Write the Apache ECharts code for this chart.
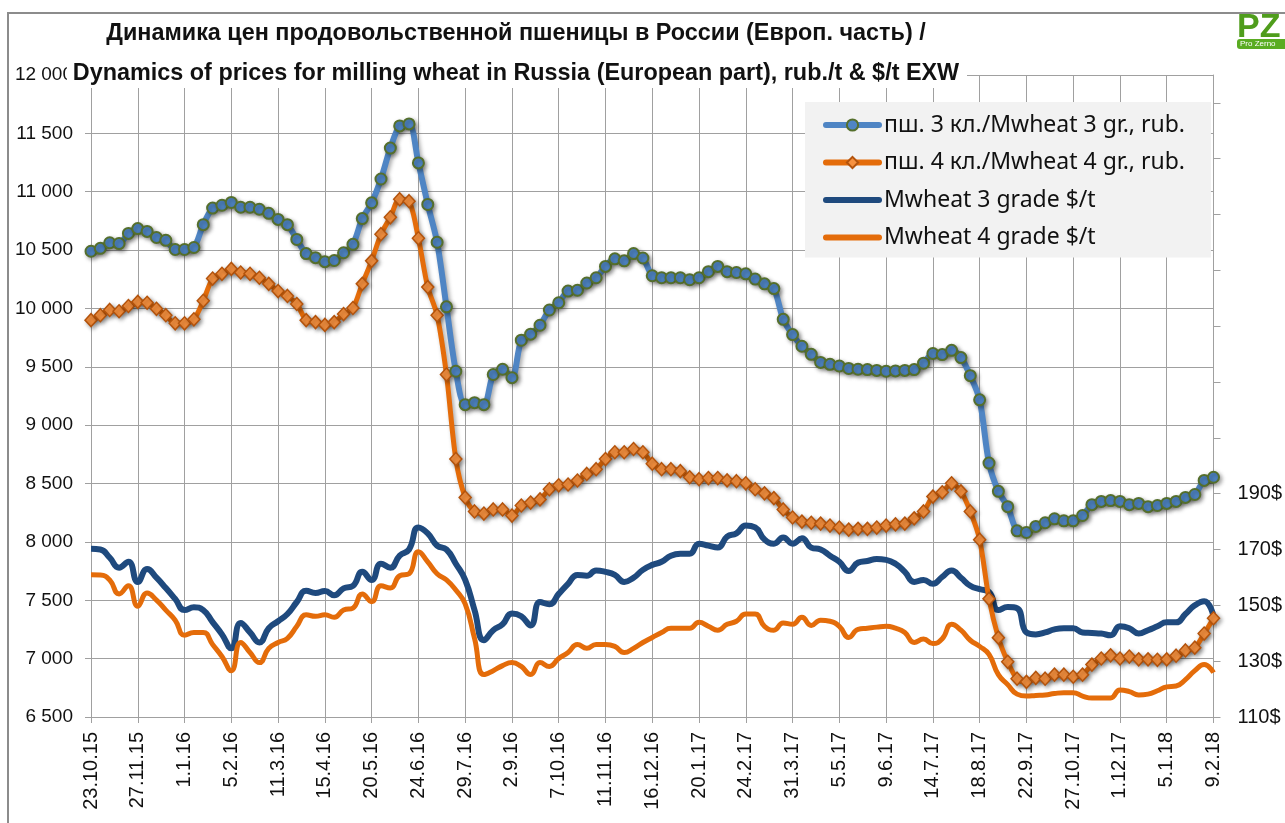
<!DOCTYPE html>
<html>
<head>
<meta charset="utf-8">
<style>
html, body { margin: 0; padding: 0; background: #fff; }
#chart { width: 1285px; height: 823px; }
</style>
<script src="https://cdn.jsdelivr.net/npm/echarts@6/dist/echarts.min.js"></script>
</head>
<body>
<div id="chart"></div>
<script>
// weekly dates, 23.10.15 - 9.2.18
const dates = [
  '23.10.15', '30.10.15', '6.11.15', '13.11.15', '20.11.15', '27.11.15', '4.12.15', '11.12.15', '18.12.15', '25.12.15',
  '1.1.16', '8.1.16', '15.1.16', '22.1.16', '29.1.16', '5.2.16', '12.2.16', '19.2.16', '26.2.16', '4.3.16',
  '11.3.16', '18.3.16', '25.3.16', '1.4.16', '8.4.16', '15.4.16', '22.4.16', '29.4.16', '6.5.16', '13.5.16',
  '20.5.16', '27.5.16', '3.6.16', '10.6.16', '17.6.16', '24.6.16', '1.7.16', '8.7.16', '15.7.16', '22.7.16',
  '29.7.16', '5.8.16', '12.8.16', '19.8.16', '26.8.16', '2.9.16', '9.9.16', '16.9.16', '23.9.16', '30.9.16',
  '7.10.16', '14.10.16', '21.10.16', '28.10.16', '4.11.16', '11.11.16', '18.11.16', '25.11.16', '2.12.16', '9.12.16',
  '16.12.16', '23.12.16', '30.12.16', '6.1.17', '13.1.17', '20.1.17', '27.1.17', '3.2.17', '10.2.17', '17.2.17',
  '24.2.17', '3.3.17', '10.3.17', '17.3.17', '24.3.17', '31.3.17', '7.4.17', '14.4.17', '21.4.17', '28.4.17',
  '5.5.17', '12.5.17', '19.5.17', '26.5.17', '2.6.17', '9.6.17', '16.6.17', '23.6.17', '30.6.17', '7.7.17',
  '14.7.17', '21.7.17', '28.7.17', '4.8.17', '11.8.17', '18.8.17', '25.8.17', '1.9.17', '8.9.17', '15.9.17',
  '22.9.17', '29.9.17', '6.10.17', '13.10.17', '20.10.17', '27.10.17', '3.11.17', '10.11.17', '17.11.17', '24.11.17',
  '1.12.17', '8.12.17', '15.12.17', '22.12.17', '29.12.17', '5.1.18', '12.1.18', '19.1.18', '26.1.18', '2.2.18',
  '9.2.18'
]

// rub/t, left axis
const rub3 = [
  10490, 10515, 10563, 10556, 10643, 10684, 10660, 10608, 10584, 10505,
  10505, 10522, 10718, 10860, 10884, 10908, 10867, 10867, 10850, 10815,
  10763, 10718, 10591, 10470, 10435, 10401, 10411, 10477, 10549, 10770,
  10905, 11109, 11374, 11564, 11581, 11247, 10891, 10567, 10014, 9462,
  9176, 9193, 9176, 9434, 9479, 9407, 9728, 9780, 9856, 9987,
  10049, 10149, 10156, 10218, 10263, 10360, 10425, 10408, 10470, 10432,
  10280, 10263, 10263, 10263, 10246, 10263, 10315, 10360, 10315, 10308,
  10297, 10252, 10211, 10170, 9907, 9776, 9676, 9607, 9538, 9521,
  9507, 9486, 9479, 9476, 9469, 9462, 9465, 9469, 9476, 9531,
  9614, 9605, 9641, 9579, 9424, 9217, 8675, 8433, 8302, 8095,
  8081, 8133, 8164, 8198, 8181, 8181, 8226, 8319, 8347, 8354,
  8347, 8319, 8330, 8302, 8312, 8330, 8347, 8381, 8406, 8527,
  8554
]
const rub4 = [
  9900, 9942, 9987, 9976, 10021, 10056, 10049, 9997, 9942, 9873,
  9873, 9907, 10066, 10256, 10297, 10339, 10308, 10297, 10263, 10211,
  10149, 10107, 10038, 9900, 9883, 9859, 9883, 9952, 10004, 10211,
  10408, 10636, 10781, 10936, 10919, 10601, 10183, 9942, 9434, 8710,
  8381, 8261, 8243, 8278, 8278, 8226, 8312, 8337, 8364, 8451,
  8485, 8492, 8526, 8582, 8623, 8710, 8768, 8768, 8796, 8768,
  8670, 8623, 8623, 8606, 8554, 8537, 8547, 8547, 8527, 8520,
  8502, 8451, 8416, 8375, 8278, 8209, 8174, 8164, 8157, 8140,
  8123, 8105, 8112, 8112, 8123, 8140, 8150, 8157, 8202, 8261,
  8388, 8425, 8502, 8433, 8261, 8019, 7512, 7180, 6973, 6828,
  6801, 6835, 6828, 6863, 6863, 6845, 6863, 6949, 7001, 7028,
  7001, 7018, 6994, 6994, 6990, 6994, 7025, 7070, 7094, 7215,
  7346
]

// $/t, right axis
const usd3 = [
  170.3, 170.0, 167.1, 163.5, 165.6, 158.4, 163.0, 159.9, 156.2, 152.3,
  148.3, 149.3, 148.3, 144.0, 139.6, 134.6, 143.7, 140.3, 136.7, 141.8,
  144.3, 146.9, 151.2, 155.2, 154.4, 155.1, 153.6, 156.1, 157.0, 162.0,
  159.1, 164.9, 163.5, 167.8, 170.0, 177.9, 175.8, 171.4, 170.0, 164.9,
  159.1, 148.3, 137.5, 141.1, 143.2, 147.1, 146.1, 142.8, 151.2, 150.4,
  154.1, 157.7, 160.9, 160.6, 162.5, 162.0, 160.9, 158.4, 159.9, 162.7,
  164.5, 165.6, 167.8, 168.5, 168.5, 172.1, 171.4, 170.7, 174.6, 175.8,
  178.6, 177.9, 173.6, 172.1, 174.3, 172.1, 174.0, 170.7, 170.0, 167.8,
  165.6, 162.3, 165.3, 165.9, 166.6, 166.3, 164.9, 162.0, 158.4, 159.1,
  157.7, 160.2, 162.5, 159.9, 157.0, 155.8, 154.8, 148.3, 149.4, 149.0,
  140.3, 139.6, 140.3, 141.4, 141.8, 141.8, 140.3, 140.1, 139.9, 139.3,
  142.5, 141.8, 139.9, 141.1, 142.5, 143.9, 143.9, 146.9, 150.0, 151.5,
  146.1
]
const usd4 = [
  161.0, 160.9, 159.1, 154.1, 157.0, 149.7, 154.4, 151.9, 148.3, 144.7,
  139.3, 140.3, 140.3, 136.0, 131.7, 126.6, 136.7, 133.1, 129.5, 134.6,
  136.7, 138.2, 142.5, 146.6, 146.1, 146.6, 145.7, 148.3, 149.0, 154.1,
  151.3, 157.0, 156.2, 160.6, 161.3, 169.2, 165.6, 161.3, 159.1, 155.5,
  150.5, 138.2, 125.2, 126.6, 128.4, 129.5, 128.1, 125.2, 129.5, 128.1,
  131.0, 133.1, 136.0, 134.6, 136.0, 136.0, 135.3, 133.1, 134.6, 136.7,
  138.5, 140.3, 141.8, 141.8, 141.8, 143.9, 142.5, 141.1, 143.2, 144.3,
  146.9, 146.9, 142.5, 141.1, 143.7, 143.2, 145.7, 142.8, 144.7, 144.3,
  142.5, 138.5, 141.4, 141.8, 142.2, 142.5, 141.8, 140.3, 136.7, 137.9,
  136.3, 138.0, 143.2, 141.1, 137.5, 135.3, 132.4, 125.2, 121.6, 118.2,
  117.5, 117.7, 117.9, 118.4, 118.7, 118.7, 117.5, 116.8, 116.8, 116.8,
  119.7, 119.1, 117.9, 118.2, 119.4, 120.8, 121.1, 123.4, 126.6, 128.8,
  125.9
]

const usdTicks = [110, 130, 150, 170, 190, 210, 230, 250, 270, 290, 310, 330]
const usdLabels = [110, 130, 150, 170, 190]

const names = [
  'пш. 3 кл./Mwheat 3 gr., rub.',
  'пш. 4 кл./Mwheat 4 gr., rub.',
  'Mwheat 3 grade $/t',
  'Mwheat 4 grade $/t'
]

const gridColor = '#a0a0a0'
const shadow = { shadowColor: 'rgba(0,0,0,0.35)', shadowBlur: 4, shadowOffsetX: 2, shadowOffsetY: 2 }
const fmtThousands = v => String(v).replace(/\B(?=(\d{3})+(?!\d))/g, ' ')

const chart = echarts.init(document.getElementById('chart'))
chart.setOption({
  animation: false,
  backgroundColor: '#fff',
  grid: { left: 91, right: 69, top: 75, bottom: 106 },
  graphic: [
    { // chart frame
      type: 'rect', z: -10, silent: true,
      shape: { x: 8, y: 13, width: 1400, height: 900 },
      style: { fill: 'none', stroke: '#8c8c8c', lineWidth: 2 }
    },
    { // title box
      type: 'rect', z: 50, silent: true,
      shape: { x: 67, y: 15, width: 900, height: 73 },
      style: { fill: '#fff' }
    },
    {
      type: 'text', z: 51, silent: true,
      x: 516, y: 14,
      style: {
        text: 'Динамика цен продовольственной пшеницы в России (Европ. часть) /\nDynamics of prices for milling wheat in Russia (European part), rub./t & $/t EXW',
        textAlign: 'center', textVerticalAlign: 'top',
        fontFamily: 'Liberation Sans', fontWeight: 'bold', fontSize: 23.4, lineHeight: 40,
        fill: '#111'
      }
    },
    { // logo
      type: 'group', z: 52, silent: true, x: 1237, y: 11,
      children: [
        { type: 'text', style: { text: 'PZ', x: 0, y: 0, fontFamily: 'Liberation Sans', fontWeight: 'bold', fontSize: 34, fill: '#4f9d1c' } },
        { type: 'rect', shape: { x: 0, y: 28, width: 60, height: 10, r: 3 }, style: { fill: '#5aac22' } },
        { type: 'text', style: { text: 'Pro Zerno', x: 3, y: 29, fontFamily: 'Liberation Sans', fontSize: 8, fill: '#fff' } }
      ]
    }
  ],
  legend: {
    orient: 'vertical',
    left: 805,
    top: 102,
    backgroundColor: '#f2f2f2',
    padding: [11.5, 26, 8.5, 18],
    itemGap: 14.5,
    itemWidth: 53,
    itemHeight: 14,
    lineStyle: { width: 6, cap: 'round' },
    textStyle: { fontFamily: 'Noto Sans', fontSize: 23, color: '#111' },
    data: [
      names[0],
      names[1],
      { name: names[2], itemStyle: { opacity: 0 } },
      { name: names[3], itemStyle: { opacity: 0 } }
    ]
  },
  xAxis: {
    type: 'category',
    data: dates,
    boundaryGap: false,
    axisLine: { lineStyle: { color: gridColor } },
    axisTick: { interval: 4, length: 6, lineStyle: { color: gridColor } },
    axisLabel: { interval: 4, rotate: 90, margin: 15, fontFamily: 'Liberation Sans', fontSize: 20, color: '#111' },
    splitLine: { show: true, interval: 4, lineStyle: { color: gridColor } }
  },
  yAxis: [
    {
      type: 'value',
      position: 'left',
      min: 6500,
      max: 12000,
      interval: 500,
      axisLine: { show: true, lineStyle: { color: gridColor } },
      axisTick: { show: true, length: 6, lineStyle: { color: gridColor } },
      axisLabel: { margin: 18, fontFamily: 'Liberation Sans', fontSize: 19, color: '#111', formatter: fmtThousands },
      splitLine: { lineStyle: { color: gridColor } }
    },
    {
      type: 'value',
      position: 'right',
      min: 110,
      max: 340,
      axisLine: { show: true, lineStyle: { color: gridColor } },
      axisTick: { show: true, length: 7, customValues: usdTicks, lineStyle: { color: gridColor } },
      axisLabel: { margin: 24, customValues: usdLabels, fontFamily: 'Liberation Sans', fontSize: 20, color: '#111', formatter: v => v + '$' },
      splitLine: { show: false }
    }
  ],
  series: [
    {
      name: names[0],
      type: 'line',
      yAxisIndex: 0,
      data: rub3,
      z: 4,
      smooth: 0.3,
      symbol: 'circle',
      symbolSize: 11,
      showAllSymbol: true,
      lineStyle: Object.assign({ color: '#4f85c4', width: 6 }, shadow),
      itemStyle: Object.assign({ color: '#4f85c4', borderColor: '#556f2c', borderWidth: 2 }, shadow),
      emphasis: { disabled: true }
    },
    {
      name: names[1],
      type: 'line',
      yAxisIndex: 0,
      data: rub4,
      z: 3,
      smooth: 0.3,
      symbol: 'diamond',
      symbolSize: [12, 13],
      showAllSymbol: true,
      lineStyle: Object.assign({ color: '#e46c0a', width: 5 }, shadow),
      itemStyle: Object.assign({ color: '#f7913f', borderColor: '#b3530c', borderWidth: 1.5 }, shadow),
      emphasis: { disabled: true }
    },
    {
      name: names[2],
      type: 'line',
      yAxisIndex: 1,
      data: usd3,
      z: 2,
      smooth: 0.5,
      symbol: 'none',
      lineStyle: { color: '#1f4a7e', width: 6 },
      itemStyle: { color: '#1f4a7e' },
      emphasis: { disabled: true }
    },
    {
      name: names[3],
      type: 'line',
      yAxisIndex: 1,
      data: usd4,
      z: 2,
      smooth: 0.5,
      symbol: 'none',
      lineStyle: { color: '#e46c0a', width: 5 },
      itemStyle: { color: '#e46c0a' },
      emphasis: { disabled: true }
    }
  ]
})
</script>
</body>
</html>
